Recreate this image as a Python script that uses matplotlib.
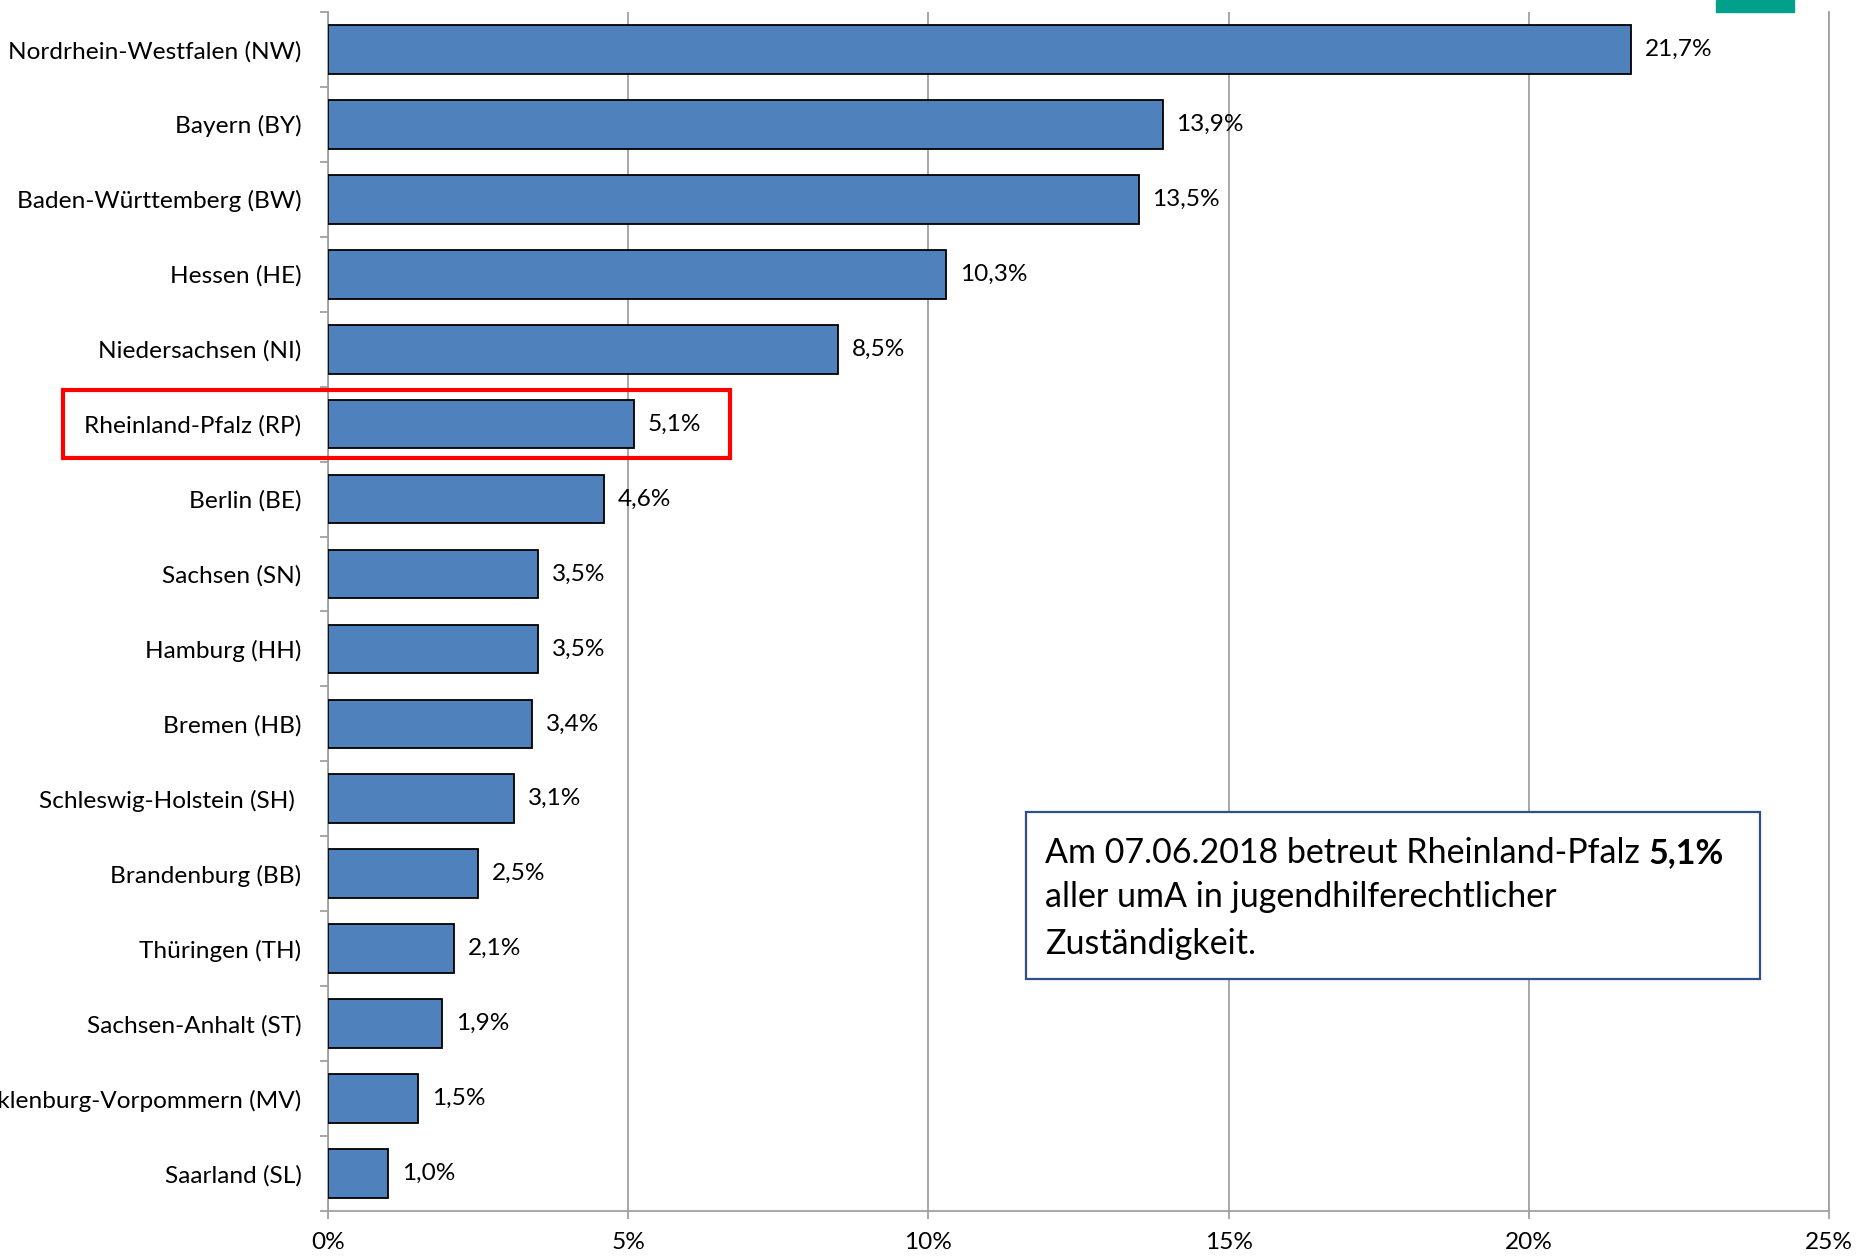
import matplotlib.pyplot as plt
from matplotlib.patches import Rectangle
import numpy as np

# data, top to bottom
states = ['Nordrhein-Westfalen (NW)', 'Bayern (BY)', 'Baden-Württemberg (BW)', 'Hessen (HE)',
          'Niedersachsen (NI)', 'Rheinland-Pfalz (RP)', 'Berlin (BE)', 'Sachsen (SN)',
          'Hamburg (HH)', 'Bremen (HB)', 'Schleswig-Holstein (SH) ', 'Brandenburg (BB)',
          'Thüringen (TH)', 'Sachsen-Anhalt (ST)', 'Mecklenburg-Vorpommern (MV)', 'Saarland (SL)']
shares = [21.7, 13.9, 13.5, 10.3, 8.5, 5.1, 4.6, 3.5, 3.5, 3.4, 3.1, 2.5, 2.1, 1.9, 1.5, 1.0]
xticks = [0, 5, 10, 15, 20, 25]
highlight = 'Rheinland-Pfalz (RP)'
note_lines = ['Am 07.06.2018 betreut Rheinland-Pfalz ', 'aller umA in jugendhilferechtlicher', 'Zuständigkeit.']
note_bold = '5,1%'

plt.rcParams['font.family'] = ['Lato', 'DejaVu Sans']
grey = '#A0A0A0'

fig = plt.figure(figsize=(18.58, 12.6), dpi=100)
ax = fig.add_axes([0.1765, 0.0389, 0.8079, 0.9516])

y = np.arange(len(states))
bars = ax.barh(y, shares, height=0.65, color='#4F81BD', edgecolor='black', linewidth=1.3, zorder=3)
ax.bar_label(bars, labels=[f'{v:.1f}%'.replace('.', ',') for v in shares], padding=10, fontsize=17.6)

ax.set_xlim(0, 25)
ax.set_ylim(len(states) - 0.5, -0.5)
ax.set_xticks(xticks)
ax.set_xticklabels([f'{t}%' for t in xticks])
ax.set_yticks(y)
ax.set_yticklabels(states)
ax.set_yticks(np.arange(len(states) + 1) - 0.5, minor=True)

ax.xaxis.grid(True, color=grey, linewidth=1.3)
ax.set_axisbelow(True)
ax.spines['top'].set_visible(False)
for s in ['left', 'bottom', 'right']:
    ax.spines[s].set_color(grey)
    ax.spines[s].set_linewidth(1.3)

ax.tick_params(axis='y', which='major', length=0, pad=19, labelsize=17.6)
ax.tick_params(axis='y', which='minor', length=6, color=grey, width=1.3)
ax.tick_params(axis='x', length=6, color=grey, width=1.3, pad=9, labelsize=17.6)

# red frame round Rheinland-Pfalz
i = states.index(highlight)
ax.add_patch(Rectangle((-4.41, i - 0.455), 11.11, 0.91, fill=False, edgecolor='#FF0000',
                       linewidth=3, clip_on=False, zorder=5))

# note box
ax.add_patch(Rectangle((11.63, 10.175), 12.22, 2.225, facecolor='white', edgecolor='#2E5288',
                       linewidth=1.6, zorder=4))
fs = 24.5
t1 = ax.text(11.94, 10.72, note_lines[0], fontsize=fs, va='center', zorder=5)
ax.annotate(note_bold, xy=(1, 0), xycoords=t1, ha='left', va='bottom', fontsize=fs,
            fontweight='bold', zorder=5)
ax.text(11.94, 11.31, note_lines[1], fontsize=fs, va='center', zorder=5)
ax.text(11.94, 11.94, note_lines[2], fontsize=fs, va='center', zorder=5)

# bit of logo cut at the top edge
fig.patches.append(Rectangle((1716 / 1858, 1 - 12 / 1260), 78 / 1858, 12 / 1260,
                             transform=fig.transFigure, color='#00A08A'))

plt.savefig('out.png', dpi=100)
